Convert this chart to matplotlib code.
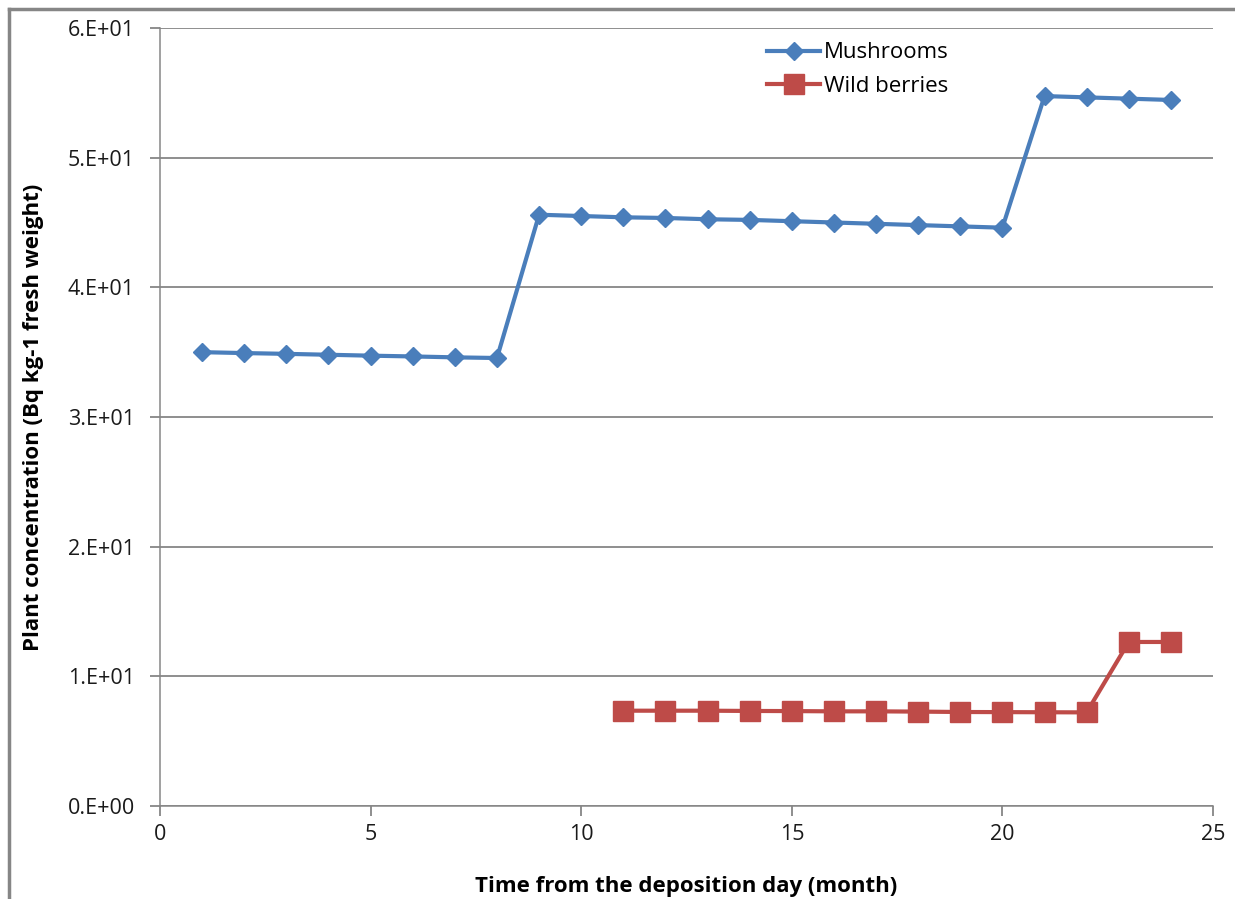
import matplotlib
matplotlib.use("Agg")
import matplotlib.pyplot as plt
from matplotlib.lines import Line2D

plt.rcParams['font.family'] = ['Open Sans', 'DejaVu Sans']

mush_x = list(range(1, 25))
mush_y = [35.0, 34.93, 34.87, 34.8, 34.73, 34.67, 34.6, 34.55,
          45.6, 45.5, 45.4, 45.35, 45.25, 45.2, 45.1, 45.0, 44.9, 44.8, 44.7, 44.6,
          54.75, 54.65, 54.55, 54.45]
berry_x = list(range(11, 25))
berry_y = [7.35, 7.35, 7.35, 7.33, 7.32, 7.3, 7.3, 7.28, 7.25, 7.24, 7.23, 7.22,
           12.65, 12.65]
yticks = [0, 10, 20, 30, 40, 50, 60]
ytick_labels = ['0.E+00', '1.E+01', '2.E+01', '3.E+01', '4.E+01', '5.E+01', '6.E+01']
xticks = [0, 5, 10, 15, 20, 25]

fig = plt.figure(figsize=(12.35, 8.99), dpi=100)
ax = fig.add_axes([160/1235, 1-806/899, (1213-160)/1235, (806-28)/899])

ax.plot(mush_x, mush_y, color='#4A7EBB', lw=3, marker='D', markersize=9,
        label='Mushrooms', zorder=3)
ax.plot(berry_x, berry_y, color='#BE4B48', lw=3, marker='s', markersize=14,
        label='Wild berries', zorder=3)

ax.set_xlim(0, 25)
ax.set_ylim(0, 60)
ax.set_yticks(yticks)
ax.set_yticklabels(ytick_labels)
ax.set_xticks(xticks)
ax.yaxis.grid(True, color='#868686', lw=1.3)
ax.set_axisbelow(True)
for s in ['top', 'right']:
    ax.spines[s].set_visible(False)
for s in ['left', 'bottom']:
    ax.spines[s].set_color('#868686')
    ax.spines[s].set_linewidth(1.1)
ax.tick_params(axis='both', direction='out', length=7, width=1.3, color='#868686',
               labelsize=15.5, labelcolor='#1a1a1a')
ax.tick_params(axis='y', pad=11)
ax.tick_params(axis='x', pad=6)

ax.set_xlabel('Time from the deposition day (month)', fontsize=16, fontweight='bold', labelpad=22)
ax.set_ylabel('Plant concentration (Bq kg-1 fresh weight)', fontsize=16, fontweight='bold', labelpad=17)

leg = ax.legend(loc='upper left', bbox_to_anchor=(0.568, 0.993), frameon=False,
                fontsize=16, handlelength=2.4, handletextpad=0.15, labelspacing=0.55,
                borderaxespad=0)

fig.add_artist(Line2D([9/1235, 9/1235], [0, 1-9/899], transform=fig.transFigure,
                      color='#868686', lw=2.5))
fig.add_artist(Line2D([9/1235, 1], [1-9/899, 1-9/899], transform=fig.transFigure,
                      color='#868686', lw=2.5))

fig.savefig('out.png', dpi=100)
